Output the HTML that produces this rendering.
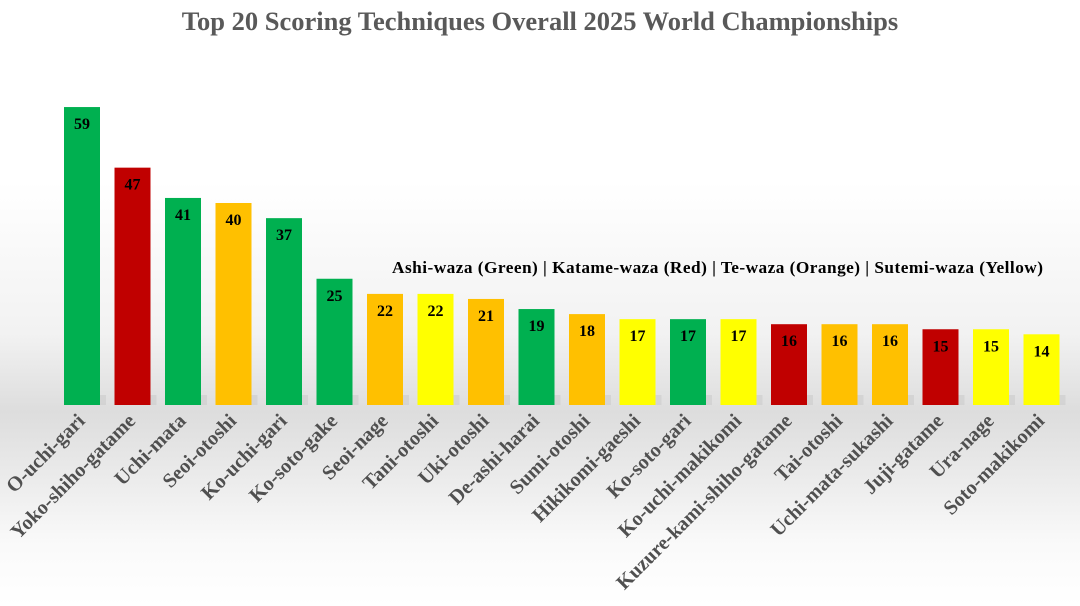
<!DOCTYPE html>
<html><head><meta charset="utf-8"><style>
html,body{margin:0;padding:0;width:1080px;height:606px;overflow:hidden;background:#fff}
</style></head><body>
<svg id="chart" width="1080" height="606" xmlns="http://www.w3.org/2000/svg" style="font-family:'Liberation Serif',serif">
<defs>
<linearGradient id="bg" x1="0" y1="0" x2="0" y2="1">
<stop offset="0" stop-color="#ffffff"/>
<stop offset="0.3" stop-color="#ffffff"/>
<stop offset="0.55" stop-color="#f2f2f2"/>
<stop offset="0.68" stop-color="#dddddd"/>
<stop offset="0.75" stop-color="#e6e6e6"/>
<stop offset="0.9" stop-color="#fafafa"/>
<stop offset="1" stop-color="#ffffff"/>
</linearGradient>
</defs>
<rect x="0" y="0" width="1080" height="606" fill="url(#bg)"/>
<text x="540" y="30" text-anchor="middle" font-size="26.5" font-weight="bold" fill="#595959">Top 20 Scoring Techniques Overall 2025 World Championships</text>
<text x="392" y="273" font-size="17.3" font-weight="bold" fill="#000" textLength="651">Ashi-waza (Green)  |  Katame-waza (Red)  |  Te-waza (Orange)  |  Sutemi-waza (Yellow)</text>
<g id="bars"></g>
</svg>
<script>
const categories=["O-uchi-gari","Yoko-shiho-gatame","Uchi-mata","Seoi-otoshi","Ko-uchi-gari","Ko-soto-gake","Seoi-nage","Tani-otoshi","Uki-otoshi","De-ashi-harai","Sumi-otoshi","Hikikomi-gaeshi","Ko-soto-gari","Ko-uchi-makikomi","Kuzure-kami-shiho-gatame","Tai-otoshi","Uchi-mata-sukashi","Juji-gatame","Ura-nage","Soto-makikomi"];
const values=[59,47,41,40,37,25,22,22,21,19,18,17,17,17,16,16,16,15,15,14];
const groups=["ashi","katame","ashi","te","ashi","ashi","te","sutemi","te","ashi","te","sutemi","ashi","sutemi","katame","te","te","katame","sutemi","sutemi"];
const colorOf={ashi:"#00B050",katame:"#C00000",te:"#FFC000",sutemi:"#FFFF00"};
const baseY=405, pxPerUnit=5.05, x0=82, step=50.5, bw=36;
function xScale(i){return x0+i*step;}
function yScale(v){return baseY-v*pxPerUnit;}
const g=document.getElementById('bars');
const NS="http://www.w3.org/2000/svg";
categories.forEach((c,i)=>{
  const cx=xScale(i), y=yScale(values[i]);
  const sh=document.createElementNS(NS,'rect');
  
  
  sh.setAttribute('x',cx-bw/2+6);sh.setAttribute('y',baseY-10);sh.setAttribute('width',bw);sh.setAttribute('height',10);
  sh.setAttribute('fill','#c8c8c8');sh.setAttribute('opacity','0.5');
  g.appendChild(sh);
  const r=document.createElementNS(NS,'rect');
  
  
  r.setAttribute('x',cx-bw/2);r.setAttribute('y',y);r.setAttribute('width',bw);r.setAttribute('height',baseY-y);
  r.setAttribute('fill',colorOf[groups[i]]);
  g.appendChild(r);
  const t=document.createElementNS(NS,'text');
  
  
  t.setAttribute('x',cx);t.setAttribute('y',y+22);t.setAttribute('text-anchor','middle');
  t.setAttribute('font-size','16');t.setAttribute('font-weight','bold');t.setAttribute('fill','#000');
  t.textContent=values[i];
  g.appendChild(t);
  const l=document.createElementNS(NS,'text');
  
  
  const lx=cx+4, ly=422;
  l.setAttribute('x',lx);l.setAttribute('y',ly);l.setAttribute('text-anchor','end');
  l.setAttribute('transform','rotate(-45 '+lx+' '+ly+')');
  l.setAttribute('font-size','20.3');l.setAttribute('font-weight','bold');l.setAttribute('fill','#505050');
  l.textContent=c;
  g.appendChild(l);
});
</script>
</body></html>
